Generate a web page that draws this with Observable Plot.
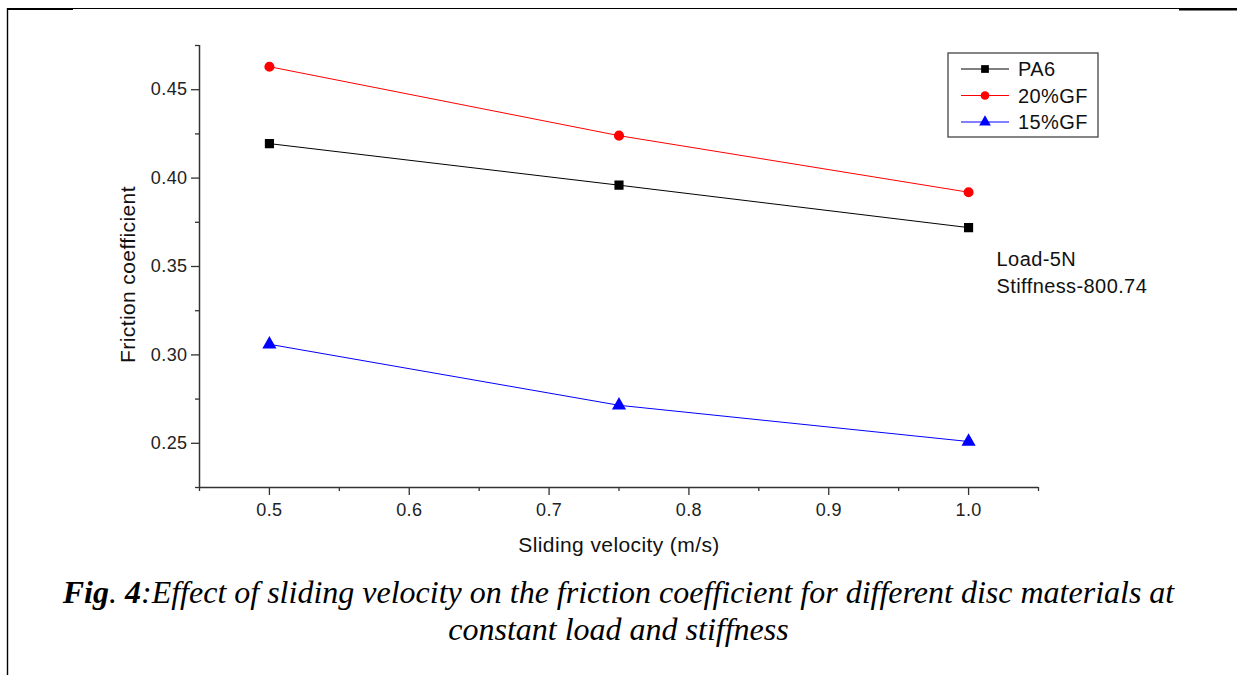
<!DOCTYPE html>
<html>
<head>
<meta charset="utf-8">
<script src="https://cdn.jsdelivr.net/npm/d3@7"></script>
<script src="https://cdn.jsdelivr.net/npm/@observablehq/plot@0.6"></script>
<style>
  html, body { margin: 0; padding: 0; background: #fff; }
  #wrap { position: relative; width: 1237px; height: 675px; overflow: hidden; }
  #wrap svg text { letter-spacing: 0.4px; }
  #wrap svg text.big { letter-spacing: 1px; }
  #caption { position: absolute; left: 0; width: 1237px; top: 574px; text-align: center;
    font-family: "Liberation Serif", "Times New Roman", serif; font-style: italic; font-size: 32px;
    line-height: 37px; color: #000; }
</style>
</head>
<body>
<div id="wrap"></div>
<script>
const velocity = [0.5, 0.75, 1.0];
const seriesNames = ["PA6", "20%GF", "15%GF"];
const pa6 = [0.4195, 0.396, 0.372];
const gf20 = [0.463, 0.424, 0.392];
const gf15 = [0.306, 0.2715, 0.251];
const seriesColors = ["#000000", "#ff0000", "#0000ff"];
const seriesSymbols = ["square", "circle", "triangle"];
const xTicks = [0.5, 0.6, 0.7, 0.8, 0.9, 1.0];
const xMinor = [0.45, 0.55, 0.65, 0.75, 0.85, 0.95, 1.05];
const yTicks = [0.25, 0.30, 0.35, 0.40, 0.45];
const yMinor = [0.225, 0.275, 0.325, 0.375, 0.425, 0.475];
const annotation = ["Load-5N", "Stiffness-800.74"];

const values = [pa6, gf20, gf15];
const data = [];
seriesNames.forEach((s, i) => velocity.forEach((v, j) => data.push({series: s, x: v, y: values[i][j]})));

const axisColor = "#333";
const W = 1237, H = 675;
const chart = Plot.plot({
  width: W, height: H,
  marginLeft: 199, marginRight: 199, marginTop: 45, marginBottom: 188,
  style: {fontFamily: "'Liberation Sans', Arial, sans-serif", fontSize: "18px", color: "#222", background: "#fff"},
  x: {domain: [0.45, 1.05]},
  y: {domain: [0.225, 0.475]},
  symbol: {domain: seriesNames, range: seriesSymbols},
  color: {domain: seriesNames, range: seriesColors},
  marks: [
    Plot.axisX({ticks: xTicks, tickSize: 8, tickPadding: 8, tickFormat: d3.format(".1f"), stroke: axisColor, strokeWidth: 1.3, label: null, fontSize: 18}),
    Plot.axisX({ticks: xMinor, tickSize: 4, tickFormat: null, text: null, stroke: axisColor, strokeWidth: 1.3, label: null}),
    Plot.axisY({ticks: yTicks, tickSize: 8, tickPadding: 4, tickFormat: d3.format(".2f"), stroke: axisColor, strokeWidth: 1.3, label: null, fontSize: 18}),
    Plot.axisY({ticks: yMinor, tickSize: 4, tickFormat: null, text: null, stroke: axisColor, strokeWidth: 1.3, label: null}),
    Plot.ruleY([0.225], {stroke: axisColor, strokeWidth: 1.5}),
    Plot.ruleX([0.45], {stroke: axisColor, strokeWidth: 1.5}),
    Plot.line(data, {x: "x", y: "y", z: "series", stroke: "series", strokeWidth: 1}),
    Plot.dot(data, {x: "x", y: "y", symbol: "series", fill: "series", stroke: "series", r: 4.3}),
    Plot.text(["Sliding velocity (m/s)"], {frameAnchor: "bottom", dy: 64, fontSize: 21, fill: "#111", className: "big"}),
    Plot.text(["Friction coefficient"], {frameAnchor: "left", textAnchor: "middle", dx: -71, dy: 8, rotate: -90, fontSize: 21, fill: "#111", className: "big"}),
    Plot.text([annotation.join("\n")], {x: 1.0, y: 0.35, dx: 28, dy: 4, textAnchor: "start", lineHeight: 1.35, fontSize: 20, fill: "#111"})
  ]
});
const wrap = document.getElementById("wrap");
wrap.appendChild(chart);

// Frame lines of the page figure
const svg = d3.select(chart);
const g = svg.append("g").attr("stroke", "#000");
g.append("line").attr("x1", 7).attr("x2", W).attr("y1", 8.5).attr("y2", 8.5).attr("stroke-width", 1.2);
g.append("line").attr("x1", 7).attr("x2", 73).attr("y1", 9).attr("y2", 9).attr("stroke-width", 2.2);
g.append("line").attr("x1", 1179).attr("x2", W).attr("y1", 9.5).attr("y2", 9.5).attr("stroke-width", 2.2);
g.append("line").attr("x1", 7.5).attr("x2", 7.5).attr("y1", 8).attr("y2", H).attr("stroke-width", 1.4);

// Legend
const lg = svg.append("g").attr("transform", "translate(948,53)");
lg.append("rect").attr("width", 150).attr("height", 84).attr("fill", "#fff").attr("stroke", "#444").attr("stroke-width", 1.3);
const sym = {square: d3.symbolSquare, circle: d3.symbolCircle, triangle: d3.symbolTriangle};
seriesNames.forEach((s, i) => {
  const y = 16 + i * 26.5;
  lg.append("line").attr("x1", 13).attr("x2", 61).attr("y1", y).attr("y2", y).attr("stroke", seriesColors[i]).attr("stroke-width", 1);
  lg.append("path").attr("d", d3.symbol(sym[seriesSymbols[i]], 60)()).attr("transform", `translate(37,${y})`).attr("fill", seriesColors[i]);
  lg.append("text").attr("x", 70).attr("y", y).attr("dy", "0.36em").attr("text-anchor", "start")
    .attr("font-size", 20).attr("fill", "#111").text(s);
});

const cap = document.createElement("div");
cap.id = "caption";
cap.innerHTML = '<b>Fig</b>. <b>4</b>:Effect of sliding velocity on the friction coefficient for different disc materials at<br>constant load and stiffness';
wrap.appendChild(cap);
</script>
</body>
</html>
